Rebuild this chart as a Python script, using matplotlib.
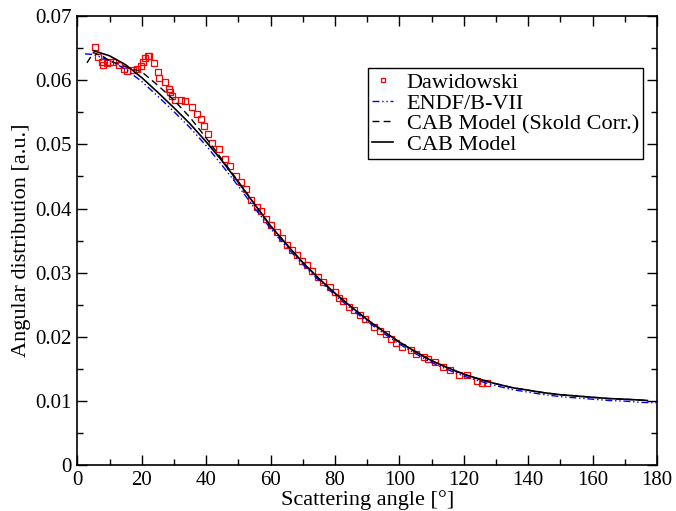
import matplotlib
matplotlib.use("Agg")
import matplotlib.pyplot as plt
from matplotlib.ticker import MultipleLocator, FuncFormatter

# Dawidowski experimental data
daw_angle = [5.5, 6.5, 7.6, 7.9, 9.1, 10.2, 11.0, 13.0, 14.5, 15.3, 17.4, 18.6, 19.9, 20.3,
             21.1, 22.0, 22.4, 23.9, 25.1, 25.5, 27.1, 28.4, 28.8, 29.4, 30.3, 32.1, 33.4,
             35.5, 37.1, 38.4, 39.4, 40.7, 41.7, 44.0, 45.9, 47.5, 49.2, 50.8, 52.4, 54.0,
             55.7, 57.1, 58.5, 60.2, 61.9, 63.5, 65.2, 66.6, 68.3, 69.9, 71.4, 73.0, 74.7,
             76.4, 78.4, 80.0, 81.4, 82.6, 84.5, 85.9, 87.8, 89.4, 92.1, 94.0, 95.9, 97.3,
             99.0, 100.7, 103.5, 105.2, 107.5, 109.0, 111.1, 113.7, 115.7, 118.5, 121.1,
             124.0, 125.7, 127.3]
daw_value = [0.0651, 0.0636, 0.0629, 0.0624, 0.0626, 0.0628, 0.0628, 0.0623, 0.0618, 0.0615,
             0.0616, 0.0618, 0.0622, 0.0628, 0.0635, 0.0637, 0.0638, 0.0626, 0.0612, 0.0604,
             0.0597, 0.0586, 0.0581, 0.0575, 0.0569, 0.0569, 0.0567, 0.0559, 0.0548, 0.0540,
             0.0529, 0.0516, 0.0502, 0.0493, 0.0477, 0.0466, 0.0450, 0.0441, 0.0430, 0.0414,
             0.0403, 0.0396, 0.0383, 0.0374, 0.0364, 0.0354, 0.0344, 0.0335, 0.0327, 0.0319,
             0.0312, 0.0303, 0.0293, 0.0285, 0.0278, 0.0270, 0.0261, 0.0256, 0.0247, 0.0242,
             0.0234, 0.0228, 0.0216, 0.0209, 0.0204, 0.0197, 0.0191, 0.0184, 0.0180, 0.0174,
             0.0168, 0.0166, 0.0161, 0.0153, 0.0149, 0.0141, 0.0141, 0.0132, 0.0129, 0.0129]

# CAB Model
cab_angle = [5, 10, 15, 20, 25, 30, 35, 40, 45, 50, 55, 60, 65, 70, 75, 80, 85, 90, 95, 100,
             105, 110, 115, 120, 125, 130, 135, 140, 145, 150, 155, 160, 165, 170, 177]
cab_value = [0.0646, 0.0638, 0.0624, 0.0604, 0.0581, 0.0557, 0.0532, 0.0504, 0.0474, 0.0441,
             0.0407, 0.0373, 0.0344, 0.0316, 0.0291, 0.0268, 0.0247, 0.0227, 0.0209, 0.0192,
             0.0177, 0.0163, 0.0152, 0.0142, 0.0134, 0.0127, 0.0121, 0.0117, 0.0113, 0.0110,
             0.0108, 0.0106, 0.0104, 0.0103, 0.0101]

# CAB Model (Skold Corr.)
skold_angle = [3, 5, 8, 10, 15, 20, 25, 30, 35, 40, 45, 50, 55, 60, 65, 70, 75, 80, 85, 90,
               95, 100, 105, 110, 115, 120, 125, 130, 135, 140, 145, 150, 155, 160, 165, 170, 177]
skold_value = [0.0627, 0.0643, 0.0637, 0.0630, 0.0621, 0.0613, 0.0592, 0.0569, 0.0542, 0.0510,
               0.0476, 0.0442, 0.0407, 0.0373, 0.0344, 0.0316, 0.0291, 0.0268, 0.0247, 0.0227,
               0.0209, 0.0192, 0.0177, 0.0163, 0.0152, 0.0142, 0.0134, 0.0127, 0.0121, 0.0117,
               0.0113, 0.0110, 0.0108, 0.0106, 0.0104, 0.0103, 0.0101]

# ENDF/B-VII
endf_angle = [2.4, 5, 10, 15, 20, 25, 30, 35, 40, 45, 50, 55, 60, 65, 70, 75, 80, 85, 90, 95,
              100, 105, 110, 115, 120, 125, 130, 135, 140, 145, 150, 155, 160, 165, 170, 175, 180]
endf_value = [0.0641, 0.0640, 0.0631, 0.0617, 0.0598, 0.0575, 0.0551, 0.0526, 0.0498, 0.0467,
              0.0435, 0.0401, 0.0369, 0.0340, 0.0313, 0.0288, 0.0265, 0.0244, 0.0224, 0.0206,
              0.0189, 0.0174, 0.0160, 0.0149, 0.0139, 0.0131, 0.0124, 0.0118, 0.0114, 0.0110,
              0.0107, 0.0105, 0.0103, 0.0101, 0.0100, 0.0098, 0.00975]

plt.rcParams['font.family'] = ['Liberation Serif', 'DejaVu Serif']

fig = plt.figure(figsize=(6.76, 5.11), dpi=100)
ax = fig.add_axes([0.1144, 0.0894, 0.9719 - 0.1144, 0.9687 - 0.0894])

ax.plot(daw_angle, daw_value, linestyle='none', marker='s', markersize=5,
        markerfacecolor='none', markeredgecolor='#ff0000', markeredgewidth=0.9,
        label='Dawidowski', zorder=3)
ax.plot(endf_angle, endf_value, color='#0000ff', linewidth=1.0,
        linestyle=(0, (5, 2, 1, 2, 1, 2)), label='ENDF/B-VII', zorder=4)
ax.plot(skold_angle, skold_value, color='black', linewidth=1.0,
        linestyle=(0, (5, 3)), label='CAB Model (Skold Corr.)', zorder=5)
ax.plot(cab_angle, cab_value, color='black', linewidth=1.2, linestyle='-',
        label='CAB Model', zorder=6)

ax.set_xlim(0, 180)
ax.set_ylim(0, 0.07)
ax.xaxis.set_major_locator(MultipleLocator(20))
ax.xaxis.set_minor_locator(MultipleLocator(10))
ax.yaxis.set_major_locator(MultipleLocator(0.01))
ax.yaxis.set_minor_locator(MultipleLocator(0.005))
ax.yaxis.set_major_formatter(FuncFormatter(lambda v, p: '0' if abs(v) < 1e-9 else f'{v:.2f}'))

ax.tick_params(which='both', direction='in', top=True, right=True, labelsize=15, pad=4)
ax.tick_params(which='major', length=7, width=1.0)
ax.tick_params(which='minor', length=4, width=1.0)
for s in ax.spines.values():
    s.set_linewidth(1.2)

ax.set_xlabel('Scattering angle [°]', fontsize=16, labelpad=0)
ax.set_ylabel('Angular distribution [a.u.]', fontsize=16, labelpad=3)

leg = ax.legend(loc='upper left', bbox_to_anchor=(0.501, 0.884), fontsize=16,
                frameon=True, fancybox=False, edgecolor='black', framealpha=1,
                handlelength=0.95, handletextpad=0.6, borderpad=0.2, labelspacing=0.0,
                markerscale=0.6, borderaxespad=0)
leg.get_frame().set_linewidth(1.0)

fig.savefig('out.png', dpi=100)
